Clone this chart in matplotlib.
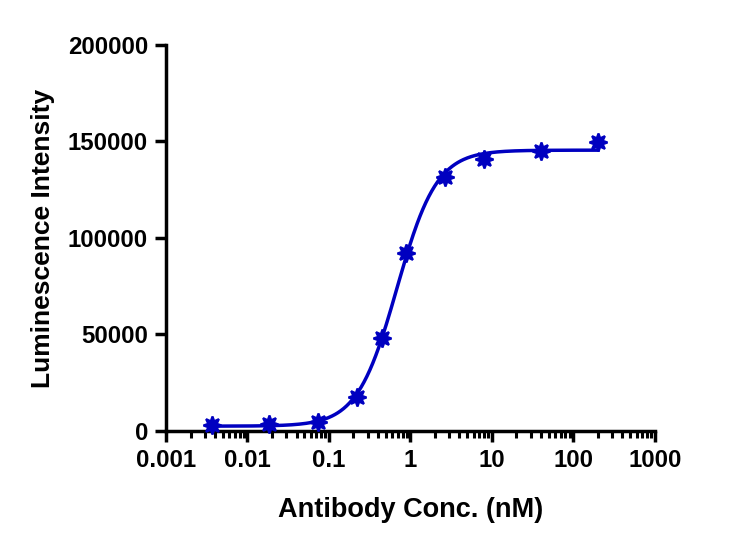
import numpy as np
import matplotlib.pyplot as plt
from matplotlib.ticker import LogLocator, NullFormatter, FixedLocator

plt.rcParams['font.family'] = ['Liberation Sans', 'DejaVu Sans']
plt.rcParams['font.weight'] = 'bold'

# data
conc_nM = [0.0037, 0.0185, 0.074, 0.222, 0.444, 0.889, 2.67, 8.0, 40.0, 200.0]
lum = [3100, 3600, 4700, 17600, 48200, 92200, 131600, 140900, 145100, 149700]
y_ticks = [0, 50000, 100000, 150000, 200000]
x_ticks = [0.001, 0.01, 0.1, 1, 10, 100, 1000]
x_tick_labels = ["0.001", "0.01", "0.1", "1", "10", "100", "1000"]

blue = "#0000C0"

# 4PL fit: grid search over logEC50 and hill, bottom/top by linear least squares
x = np.array(conc_nM)
y = np.array(lum, dtype=float)
best = None
for logc in np.linspace(-1.0, 0.5, 301):
    for hill in np.linspace(0.8, 3.5, 271):
        s = 1.0 / (1.0 + 10 ** ((logc - np.log10(x)) * hill))
        A = np.column_stack([1 - s, s])
        coef, *_ = np.linalg.lstsq(A, y, rcond=None)
        err = np.sum((A @ coef - y) ** 2)
        if best is None or err < best[0]:
            best = (err, logc, hill, coef)
_, logc, hill, (bottom, top) = best

xf = np.logspace(np.log10(x.min()), np.log10(x.max()), 400)
yf = bottom + (top - bottom) / (1.0 + 10 ** ((logc - np.log10(xf)) * hill))

fig = plt.figure(figsize=(7.35, 5.48), dpi=100)
ax = fig.add_axes([0.2259, 0.2135, 0.6650, 0.7044])

ax.plot(xf, yf, color=blue, lw=2.5, zorder=2)
ax.plot(x, y, ls="none", marker=(8, 1, 0), ms=13, color=blue,
        mec=blue, mew=1.6, zorder=3, clip_on=False)

ax.set_xscale("log")
ax.set_xlim(0.001, 1000)
ax.set_ylim(0, 200000)
ax.xaxis.set_major_locator(FixedLocator(x_ticks))
ax.set_xticklabels(x_tick_labels)
ax.xaxis.set_minor_locator(LogLocator(base=10, subs=np.arange(2, 10)))
ax.xaxis.set_minor_formatter(NullFormatter())
ax.set_yticks(y_ticks)
ax.set_yticklabels([str(v) for v in y_ticks])

for side in ["top", "right"]:
    ax.spines[side].set_visible(False)
for side in ["left", "bottom"]:
    ax.spines[side].set_linewidth(2.5)

ax.tick_params(axis="both", which="major", length=8, width=2.5,
               labelsize=17.3, direction="out", pad=5)
ax.tick_params(axis="x", which="minor", length=5, width=2.2, direction="out")

ax.set_xlabel("Antibody Conc. (nM)", fontsize=19.5, fontweight="bold", labelpad=18)
ax.set_ylabel("Luminescence Intensity", fontsize=19, fontweight="bold", labelpad=9)

fig.savefig("out.png", dpi=100)
